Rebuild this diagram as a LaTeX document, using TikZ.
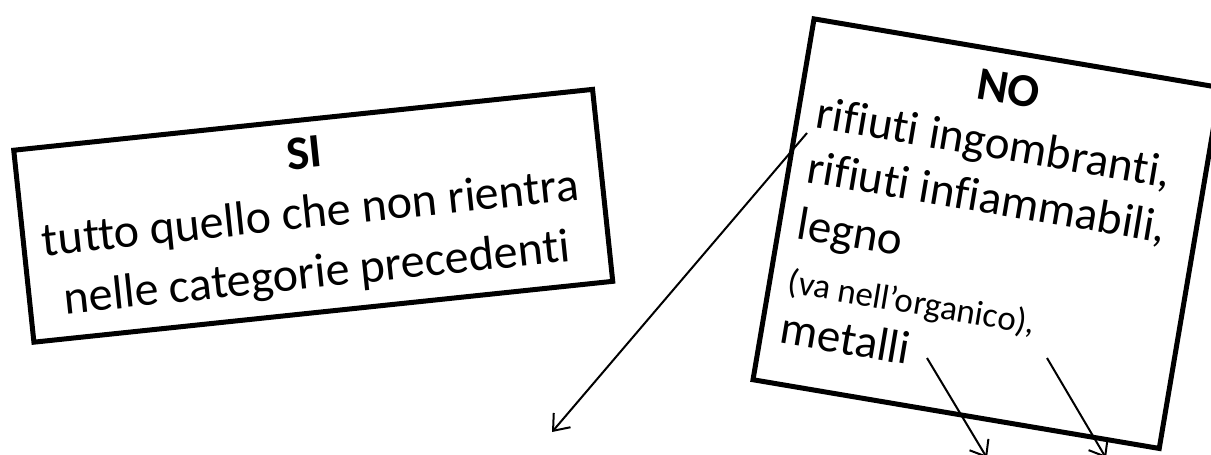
\documentclass[tikz,border=0pt]{standalone}
\usepackage{fontspec}
\setmainfont{Carlito}[Ligatures=NoCommon, RawFeature={-liga;-clig;-dlig}]
\usetikzlibrary{arrows.meta}
\begin{document}
\begin{tikzpicture}[x=1pt,y=-1pt,
  boxsty/.style={draw, line width=5pt, inner sep=0pt, anchor=north west},
  big/.style={font=\fontsize{48}{58}\selectfont, inner sep=0pt},
  bignb/.style={font=\fontsize{47}{56}\selectfont, inner sep=0pt},
  small/.style={font=\fontsize{35}{42}\selectfont, inner sep=0pt},
  arr/.style={line width=2pt, -{Straight Barb[length=14pt,width=22pt,line width=2pt]}}]
\useasboundingbox (0,0) rectangle (1211,455);
% SI box
\begin{scope}[shift={(11,148)}, rotate=6, transform shape]
  \node[boxsty, minimum width=582pt, minimum height=193pt] (si) at (0,0) {};
  \node[big, anchor=base, font=\fontsize{48}{58}\selectfont\bfseries] (sihead) at (291,51) {SI};
  \node[big, anchor=base] (siline1) at (291,111) {tutto quello che non rientra};
  \node[big, anchor=base] (siline2) at (291,171) {nelle categorie precedenti};
\end{scope}
% NO box
\begin{scope}[shift={(812,16)}, rotate=-9.6, transform shape]
  \node[boxsty, minimum width=412pt, minimum height=366pt] (no) at (0,0) {};
  \node[bignb, anchor=base, font=\fontsize{47}{56}\selectfont\bfseries] (nohead) at (206,54) {NO};
  \node[bignb, anchor=base west] (noline1) at (21,110) {rifiuti ingombranti,};
  \node[bignb, anchor=base west] (noline2) at (21,165) {rifiuti infiammabili,};
  \node[bignb, anchor=base west] (noline3) at (21,222) {legno};
  \node[small, anchor=base west] (noline4) at (21,277) {(va nell’organico),};
  \node[bignb, anchor=base west] (noline5) at (21,328) {metalli};
\end{scope}
% arrows
\coordinate (a1s) at (807,133);
\coordinate (a1e) at (552,432);
\coordinate (a2s) at (927,358);
\coordinate (a2e) at (987,458);
\coordinate (a3s) at (1047,358);
\coordinate (a3e) at (1106,458);
\draw[arr] (a1s) -- (a1e);
\draw[arr] (a2s) -- (a2e);
\draw[arr] (a3s) -- (a3e);
\end{tikzpicture}
\end{document}
